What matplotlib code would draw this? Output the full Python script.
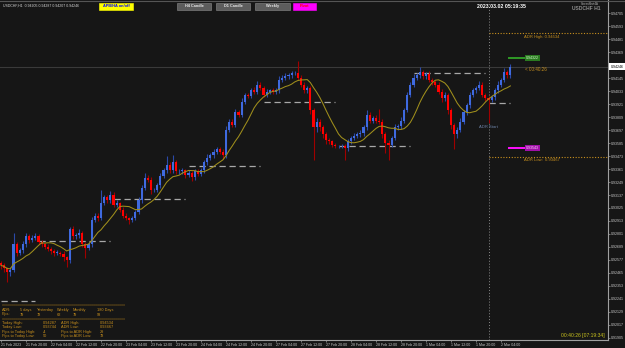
import matplotlib
matplotlib.use("Agg")
import matplotlib.pyplot as plt
from matplotlib.patches import Rectangle
from matplotlib.transforms import blended_transform_factory
import numpy as np
import pandas as pd

plt.rcParams['font.family'] = ['Liberation Sans', 'DejaVu Sans']

W, H = 625, 348
BG = '#161616'

# ---------------- data ----------------
header_text = "USDCHF,H1  0.94205 0.94287 0.94207 0.94246"
first_open = 0.9255
closes = [
    0.9253, 0.9251, 0.9247, 0.9249, 0.9271, 0.9264, 0.9266, 0.9271, 0.9278, 0.9275, 0.9277, 0.9278, 0.9273, 0.9271, 0.9269, 0.9267,
    0.9265, 0.9264, 0.9264, 0.9263, 0.9260, 0.9258, 0.9284, 0.9278, 0.9279, 0.9281, 0.9271, 0.9268, 0.9271, 0.9292, 0.9296, 0.9294,
    0.9307, 0.9312, 0.9309, 0.9314, 0.9305, 0.9307, 0.9301, 0.9296, 0.9294, 0.9292, 0.9294, 0.9299, 0.9309, 0.9320, 0.9328, 0.9327,
    0.9318, 0.9318, 0.9322, 0.9330, 0.9335, 0.9340, 0.9335, 0.9342, 0.9334, 0.9334, 0.9335, 0.9331, 0.9333, 0.9329, 0.9334, 0.9332,
    0.9335, 0.9342, 0.9346, 0.9348, 0.9351, 0.9353, 0.9351, 0.9348, 0.9370, 0.9377, 0.9374, 0.9385, 0.9383, 0.9394, 0.9400, 0.9399,
    0.9404, 0.9403, 0.9409, 0.9406, 0.9400, 0.9403, 0.9404, 0.9403, 0.9404, 0.9413, 0.9415, 0.9416, 0.9417, 0.9419, 0.9419, 0.9415,
    0.9409, 0.9404, 0.9406, 0.9387, 0.9372, 0.9377, 0.9372, 0.9366, 0.9361, 0.9360, 0.9357, 0.9356, 0.9356, 0.9356, 0.9354, 0.9360,
    0.9363, 0.9365, 0.9366, 0.9367, 0.9372, 0.9383, 0.9378, 0.9380, 0.9378, 0.9377, 0.9366, 0.9359, 0.9357, 0.9363, 0.9372, 0.9373,
    0.9378, 0.9387, 0.9400, 0.9409, 0.9415, 0.9417, 0.9420, 0.9416, 0.9418, 0.9413, 0.9411, 0.9409, 0.9403, 0.9397, 0.9400, 0.9387,
    0.9374, 0.9366, 0.9370, 0.9377, 0.9385, 0.9391, 0.9400, 0.9404, 0.9406, 0.9409, 0.9400, 0.9397, 0.9396, 0.9398, 0.9404, 0.9409,
    0.9413, 0.9420, 0.9417, 0.94246,
]
upper_wick_pips = [
    2, 2, 1, 3, 10, 2, 2, 3, 3, 2, 2, 3, 2, 2, 1, 2,
    2, 2, 2, 1, 2, 1, 2, 3, 2, 3, 2, 2, 2, 3, 2, 2,
    11, 2, 2, 3, 2, 2, 1, 2, 2, 1, 2, 2, 3, 2, 5, 3,
    2, 2, 2, 3, 2, 7, 2, 6, 2, 2, 2, 1, 2, 1, 2, 2,
    2, 2, 3, 2, 2, 2, 2, 2, 3, 2, 2, 3, 2, 3, 2, 2,
    2, 3, 3, 2, 2, 2, 1, 2, 2, 3, 2, 3, 2, 2, 2, 10,
    2, 2, 2, 2, 2, 3, 2, 2, 2, 2, 1, 2, 1, 2, 2, 2,
    2, 2, 2, 3, 2, 4, 2, 2, 3, 10, 2, 2, 2, 2, 3, 2,
    3, 2, 3, 2, 3, 2, 4, 2, 2, 3, 2, 2, 2, 2, 3, 2,
    2, 2, 2, 3, 2, 2, 3, 2, 2, 3, 2, 2, 2, 2, 2, 3,
    2, 3, 2, 2,
]
lower_wick_pips = [
    3, 4, 8, 3, 2, 3, 2, 2, 2, 3, 2, 2, 2, 2, 2, 2,
    2, 3, 2, 2, 3, 6, 3, 2, 2, 2, 2, 9, 2, 2, 2, 3,
    2, 2, 2, 2, 2, 2, 2, 2, 2, 3, 2, 2, 2, 2, 2, 2,
    3, 2, 2, 2, 2, 2, 2, 2, 2, 2, 2, 3, 2, 3, 2, 2,
    2, 2, 2, 2, 2, 2, 2, 3, 2, 2, 2, 2, 2, 2, 2, 2,
    2, 2, 2, 2, 2, 2, 2, 2, 2, 2, 2, 2, 2, 2, 2, 2,
    2, 2, 2, 3, 28, 4, 3, 3, 3, 2, 2, 2, 2, 2, 10, 2,
    2, 2, 2, 2, 2, 2, 2, 2, 2, 2, 3, 9, 13, 2, 2, 2,
    2, 2, 2, 2, 2, 2, 2, 2, 2, 2, 2, 2, 2, 3, 2, 3,
    3, 13, 3, 2, 2, 2, 2, 2, 2, 2, 2, 2, 20, 2, 2, 2,
    2, 2, 2, 2,
]
time_labels = [
    "21 Feb 2023", "21 Feb 20:00", "22 Feb 04:00", "22 Feb 12:00", "22 Feb 20:00",
    "23 Feb 04:00", "23 Feb 12:00", "23 Feb 20:00", "24 Feb 04:00", "24 Feb 12:00",
    "24 Feb 20:00", "27 Feb 04:00", "27 Feb 12:00", "27 Feb 20:00", "28 Feb 04:00",
    "28 Feb 12:00", "28 Feb 20:00", "1 Mar 04:00", "1 Mar 12:00", "1 Mar 20:00",
    "2 Mar 04:00",
]
bars_per_label = 8
day_starts = [0, 12, 36, 60, 84, 108, 132, 156]
day_levels = [0.92225, 0.92740, 0.93105, 0.93387, 0.93942, 0.93563, 0.94190, 0.93931]
price_ticks = [0.94705, 0.94593, 0.94481, 0.94369, 0.94257, 0.94145, 0.94033, 0.93921,
               0.93809, 0.93697, 0.93585, 0.93473, 0.93361, 0.93249, 0.93137, 0.93025,
               0.92913, 0.92801, 0.92689, 0.92577, 0.92465, 0.92353, 0.92241, 0.92129,
               0.92017, 0.91905]
current_price = 0.94246
adr_high = 0.94534
adr_low = 0.93467
target_up = 0.94322
target_dn = 0.93543
ma_period = 10
adr_start_label_price = 0.93724
countdown = "00:40:26"
countdown_full = "00:40:26 [07:19:34]"
clock = "2023.03.02 05:19:35"

adr_rows = [
    ("ADR:", "5 days", "Yesterday", "Weekly", "Monthly", "180 Days"),
    ("Pips:", "79", "78", "62", "79", "93"),
]
today_rows = [
    ("Today High:", "0.94287", "ADR High:", "0.94534"),
    ("Today Low:", "0.93744", "ADR Low:", "0.93467"),
    ("Pips to Today High:", "-4", "Pips to ADR High:", "29"),
    ("Pips to Today Low:", "50", "Pips to ADR Low:", "78"),
]
buttons = [
    ("APB/HA on/off", 99, 133, '#ffff00', '#0000ff'),
    ("H4 Candle", 177, 211, '#5c5c5c', '#e6e6e6'),
    ("D1 Candle", 216, 250, '#5c5c5c', '#e6e6e6'),
    ("Weekly", 255, 290, '#5c5c5c', '#e6e6e6'),
    ("Pivot", 293, 316, '#ff00ff', '#ff0000'),
]

# ---------------- figure ----------------
pip = 0.0001
n = len(closes)
x = np.arange(n)
closes_a = np.array(closes)
opens_a = np.array([first_open] + closes[:-1])
top_a = np.maximum(opens_a, closes_a)
bot_a = np.minimum(opens_a, closes_a)
highs_a = top_a + np.array(upper_wick_pips) * pip
lows_a = bot_a - np.array(lower_wick_pips) * pip
bull = closes_a >= opens_a

fig = plt.figure(figsize=(W / 100, H / 100), dpi=100, facecolor=BG)
ax = fig.add_axes([0, 8 / H, 608 / W, 340 / H])
ax.set_facecolor(BG)
ax.set_xlim(-0.32, 194.24)
ax.set_ylim(0.9482 - 0.0000863 * 340, 0.9482)

for s in ['top', 'left']:
    ax.spines[s].set_visible(False)
for s in ['right', 'bottom']:
    ax.spines[s].set_color('#a0a0a0')
    ax.spines[s].set_linewidth(0.8)

# bid line
ax.axhline(current_price, color='#3a3a3a', lw=0.8, zorder=1)

# daily dashed levels
ends = day_starts[1:] + [n]
for s, e, lv in zip(day_starts, ends, day_levels):
    ax.plot([s, e - 1], [lv, lv], color='#a8a8a8', lw=0.9, dashes=[5, 3], zorder=2)

# candles
wick_cols = np.where(bull, '#2b4aa8', '#a00000')
body_cols = np.where(bull, '#3f6ae0', '#ff0000')
ax.vlines(x, lows_a, highs_a, colors=wick_cols, lw=0.8, zorder=3)
heights = np.maximum(top_a - bot_a, 0.00004)
ax.bar(x, heights, bottom=bot_a, width=0.66, color=body_cols, linewidth=0, zorder=4)

# moving average
ma = pd.Series(closes_a).rolling(ma_period, min_periods=1).mean()
ax.plot(x, ma, color='#a08f1c', lw=0.75, zorder=5)

# day separator / ADR start
sep = day_starts[-1]
ax.axvline(sep, color='#8a8a8a', lw=0.7, ls=(0, (1, 2)), zorder=2)
adr_col = '#c8901e'
ax.plot([sep, 194.24], [adr_high, adr_high], color=adr_col, lw=0.8, ls=(0, (1, 1.5)), zorder=2)
ax.plot([sep, 194.24], [adr_low, adr_low], color=adr_col, lw=0.8, ls=(0, (1, 1.5)), zorder=2)
ax.annotate(f"ADR High: {adr_high:.5f}", xy=(sep + 17, adr_high), xytext=(0, -1.2),
            textcoords='offset points', ha='center', va='top', fontsize=3.0, color=adr_col)
ax.annotate(f"ADR Low:  {adr_low:.5f}", xy=(sep + 17, adr_low), xytext=(0, -1.2),
            textcoords='offset points', ha='center', va='top', fontsize=3.0, color=adr_col)
ax.text(sep, adr_start_label_price, "ADR Start", fontsize=3.0, color='#6c82a6',
        ha='center', va='center')

# target markers
last = n - 1
for lv, lc, bc, tc in [(target_up, '#2f9a26', '#2a7a20', '#d8ffd0'),
                       (target_dn, '#ff10ff', '#a010a8', '#ffd8ff')]:
    ax.plot([last - 0.4, last + 4.7], [lv, lv], color=lc, lw=1.4, zorder=6)
    ax.text(last + 7.2, lv, f"{lv:.5f}", fontsize=2.6, color=tc, ha='center', va='center',
            bbox=dict(boxstyle='square,pad=0.25', fc=bc, ec='none'), zorder=7)

ax.annotate(f"< {countdown}", xy=(last + 4.7, current_price), xytext=(0, -2.4),
            textcoords='offset points', ha='left', va='center', fontsize=3.3, color='#c8901e')

# axes ticks
ax.set_xticks(np.arange(len(time_labels)) * bars_per_label)
ax.set_xticklabels(time_labels, ha='left', fontsize=2.6)
ax.tick_params(axis='x', length=1.5, width=0.5, color='#a0a0a0', labelcolor='#c8c8c8', pad=0.8)
yt = [t for t in price_ticks if abs(t - current_price) > 0.0006]
ax.yaxis.tick_right()
ax.set_yticks(yt)
ax.set_yticklabels([f"{t:.5f}" for t in yt], fontsize=2.6)
ax.tick_params(axis='y', length=1.5, width=0.5, color='#a0a0a0', labelcolor='#c8c8c8', pad=0.8)
tr = blended_transform_factory(ax.transAxes, ax.transData)
ax.text(1.004, current_price, f"{current_price:.5f}", transform=tr, fontsize=2.6, color='black',
        ha='left', va='center', bbox=dict(boxstyle='square,pad=0.3', fc='white', ec='none'),
        clip_on=False, zorder=8)


def fx(px):
    return px / W


def fy(py):
    return 1 - py / H


# top border
fig.add_artist(plt.Line2D([0, 1], [fy(0.5), fy(0.5)], color='#555555', lw=0.8,
                          transform=fig.transFigure))

# header texts
fig.text(fx(3), fy(5.5), header_text, fontsize=2.5, color='#d8d8d8', va='center', ha='left')
for label, x0, x1, fc, tc in buttons:
    fig.add_artist(Rectangle((fx(x0), fy(9.5)), fx(x1 - x0), (9.5 - 2.5) / H,
                             transform=fig.transFigure, fc=fc, ec='#8a8a8a' if fc == '#5c5c5c' else fc,
                             lw=0.4))
    fig.text(fx((x0 + x1) / 2), fy(6), label, fontsize=2.8, color=tc, weight='bold',
             ha='center', va='center')
fig.text(fx(501), fy(6), clock, fontsize=3.8, color='white', weight='bold', ha='center', va='center')
fig.text(fx(590), fy(3.7), "ScreenShot4A", fontsize=2.0, color='#bdbdbd', ha='center', va='center')
fig.text(fx(586), fy(8.8), "USDCHF H1", fontsize=3.6, color='#8c8c8c', weight='bold', ha='center', va='center')
fig.text(fx(605), fy(335.5), countdown_full, fontsize=3.6, color='#c9c21e', ha='right', va='center')

# ADR table (bottom-left)
tcol = '#c8901e'
sep_line = "=" * 62
fig.text(fx(2), fy(305.5), sep_line, fontsize=2.5, color=tcol, va='center', ha='left')
col_x = [2, 20, 37, 57, 73, 97]
for r, row in enumerate(adr_rows):
    for cx, t in zip(col_x, row):
        fig.text(fx(cx), fy(310 + 4.5 * r), t, fontsize=2.8, color=tcol, va='center', ha='left')
fig.text(fx(2), fy(319), sep_line, fontsize=2.5, color=tcol, va='center', ha='left')
col_x2 = [2, 43, 61, 100]
for r, row in enumerate(today_rows):
    for cx, t in zip(col_x2, row):
        fig.text(fx(cx), fy(323 + 4.4 * r), t, fontsize=2.8, color=tcol, va='center', ha='left')

fig.savefig("out.png", dpi=100, facecolor=BG)
